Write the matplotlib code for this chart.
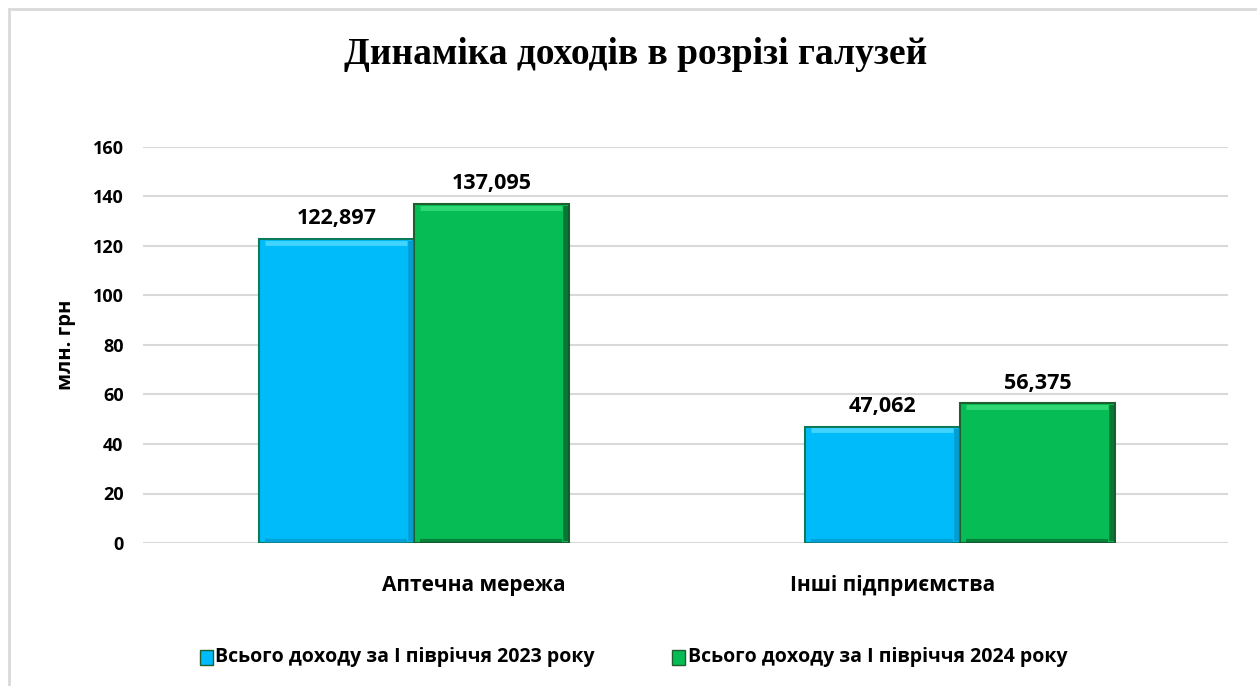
import matplotlib.pyplot as plt
from matplotlib.patches import Rectangle
import numpy as np

categories = ['Аптечна мережа', 'Інші підприємства']
series_names = ['Всього доходу за І півріччя 2023 року', 'Всього доходу за І півріччя 2024 року']
values_2023 = [122.897, 47.062]
values_2024 = [137.095, 56.375]
labels_2023 = ['122,897', '47,062']
labels_2024 = ['137,095', '56,375']
yticks = [0, 20, 40, 60, 80, 100, 120, 140, 160]

blue = '#00BBF9'
green = '#06BC54'

fig = plt.figure(figsize=(12.57, 6.86), dpi=100)
fig.patches.append(Rectangle((9 / 1257, -0.05), 1.1, 1.05 - 9 / 686, transform=fig.transFigure,
                             fill=False, edgecolor='#d9d9d9', linewidth=2, zorder=0))
ax = fig.add_axes([143 / 1257, 1 - 543 / 686, (1228 - 143) / 1257, (543 - 147) / 686])

x = np.arange(len(categories))
w = 0.284
b1 = ax.bar(x - w / 2, values_2023, w, color=blue, edgecolor='#0d7a5a', linewidth=1.5, zorder=3)
b2 = ax.bar(x + w / 2, values_2024, w, color=green, edgecolor='#1f5e2e', linewidth=1.5, zorder=3)

# bevel: light top strip, darker right and bottom strips
for bars, light, dark in ((b1, '#40d4ff', '#0890c0'), (b2, '#2fd873', '#0a5a2a')):
    for r in bars:
        x0, x1, h = r.get_x(), r.get_x() + r.get_width(), r.get_height()
        ax.plot([x0 + 0.012, x1 - 0.012], [h - 1.6, h - 1.6], color=light, lw=3.5, zorder=4,
                solid_capstyle='butt')
        ax.plot([x1 - 0.006, x1 - 0.006], [0.8, h - 0.8], color=dark, lw=4, zorder=4,
                solid_capstyle='butt', alpha=0.7)
        ax.plot([x0 + 0.012, x1 - 0.012], [1.0, 1.0], color=dark, lw=3, zorder=4,
                solid_capstyle='butt', alpha=0.6)

for bars, labels in ((b1, labels_2023), (b2, labels_2024)):
    for r, t in zip(bars, labels):
        ax.annotate(t, (r.get_x() + r.get_width() / 2, r.get_height()), xytext=(0, 7),
                    textcoords='offset points', ha='center', va='bottom',
                    fontsize=15.5, fontweight='bold', family='Open Sans')

ax.set_xlim(-0.496, 1.491)
ax.set_ylim(0, 160)
ax.set_yticks(yticks)
ax.set_yticklabels([str(v) for v in yticks], fontsize=13, fontweight='bold', family='Open Sans')
ax.tick_params(axis='y', length=0, pad=14)
ax.set_xticks([])
ax.grid(axis='y', color='#d9d9d9', linewidth=1.5, zorder=0)
for s in ax.spines.values():
    s.set_visible(False)

# category labels (offset as in original)
for xpos, cat in zip([0.11, 0.877], categories):
    ax.text(xpos, -17, cat, ha='center', va='center', fontsize=15, fontweight='bold', family='Open Sans')

ax.set_ylabel('млн. грн', fontsize=14.5, fontweight='bold', family='Open Sans', labelpad=12)

fig.text(0.506, 1 - 55 / 686, 'Динаміка доходів в розрізі галузей', ha='center', va='center',
         fontsize=27, fontweight='bold', family='Liberation Serif')

# legend
for mx, tx, name, c in [(200, 215, series_names[0], blue), (672, 688, series_names[1], green)]:
    fig.patches.append(Rectangle((mx / 1257, 1 - 665 / 686), 13 / 1257, 15 / 686,
                                 transform=fig.transFigure, facecolor=c, edgecolor='#1f5e2e', lw=1))
    fig.text(tx / 1257, 1 - 657 / 686, name, ha='left', va='center',
             fontsize=14, fontweight='bold', family='Open Sans')

fig.savefig('out.png', dpi=100)
